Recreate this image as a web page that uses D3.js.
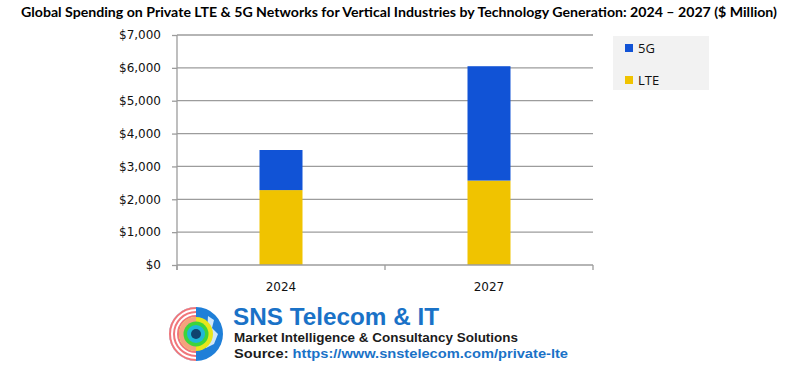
<!DOCTYPE html>
<html>
<head>
<meta charset="utf-8">
<title>Private LTE & 5G Spending</title>
<script src="https://d3js.org/d3.v7.min.js"></script>
<style>
  body { margin: 0; background: #fff; }
  svg { display: block; }
</style>
</head>
<body>
<script>
// chart values ($ Million)
var years = ["2024", "2027"];
var seriesNames = ["LTE", "5G"];
var lteValues = [2280, 2570];
var fiveGValues = [1220, 3480];
var yTicks = [0, 1000, 2000, 3000, 4000, 5000, 6000, 7000];

var colors = { "LTE": "#f0c300", "5G": "#1153d6" };

var W = 800, H = 371;
var margin = { top: 35, left: 177, right: 207, bottom: 106 };

var svg = d3.select("body").append("svg")
    .attr("width", W)
    .attr("height", H);

svg.append("text")
    .attr("x", 399)
    .attr("y", 17)
    .attr("text-anchor", "middle")
    .attr("textLength", 756)
    .attr("lengthAdjust", "spacingAndGlyphs")
    .style("font-family", "Lato, 'Open Sans', sans-serif")
    .style("font-weight", "bold")
    .style("font-size", "13.5px")
    .style("fill", "#000")
    .text("Global Spending on Private LTE & 5G Networks for Vertical Industries by Technology Generation: 2024 \u2013 2027 ($ Million)");

var plotW = W - margin.left - margin.right,
    plotH = H - margin.top - margin.bottom;

var g = svg.append("g").attr("transform", "translate(" + margin.left + "," + margin.top + ")");

var x = d3.scaleBand().domain(years).range([0, plotW]).paddingInner(0).paddingOuter(0);
var y = d3.scaleLinear().domain([0, 7000]).range([plotH, 0]);

// gridlines
g.selectAll(".grid").data(yTicks.slice(1)).enter().append("line")
    .attr("x1", 0).attr("x2", plotW)
    .attr("y1", function(d) { return y(d); })
    .attr("y2", function(d) { return y(d); })
    .style("stroke", "#9c9c9c")
    .style("stroke-width", 1.3);

// stacked data
var table = years.map(function(yr, i) { return { year: yr, "LTE": lteValues[i], "5G": fiveGValues[i] }; });
var stack = d3.stack().keys(seriesNames)(table);
var barW = 43;

g.selectAll(".layer").data(stack).enter().append("g")
    .style("fill", function(d) { return colors[d.key]; })
    .selectAll("rect").data(function(d) { return d; }).enter().append("rect")
    .attr("x", function(d) { return x(d.data.year) + x.bandwidth() / 2 - barW / 2; })
    .attr("width", barW)
    .attr("y", function(d) { return y(d[1]); })
    .attr("height", function(d) { return y(d[0]) - y(d[1]); });

// y axis
var yAxis = d3.axisLeft(y).tickValues(yTicks).tickSize(5).tickPadding(11)
    .tickFormat(function(d) { return "$" + d3.format(",")(d); });
var ya = g.append("g").call(yAxis);
ya.select(".domain").remove();
ya.append("line").attr("x1", 0).attr("x2", 0).attr("y1", 0).attr("y2", plotH + 5)
    .style("stroke", "#9c9c9c").style("stroke-width", 1.3);
ya.selectAll(".tick line").style("stroke", "#9c9c9c").style("stroke-width", 1.3);
ya.selectAll("text")
    .style("font-family", "'DejaVu Sans', Verdana, sans-serif")
    .style("font-size", "12px")
    .style("fill", "#111");

// x axis
var xa = g.append("g").attr("transform", "translate(0," + plotH + ")");
xa.append("line").attr("x1", 0).attr("x2", plotW)
    .style("stroke", "#9c9c9c").style("stroke-width", 1.3);
var bounds = [0].concat(years.map(function(d) { return x(d) + x.bandwidth(); }));
xa.selectAll(".xt").data(bounds).enter().append("line")
    .attr("x1", function(d) { return d; }).attr("x2", function(d) { return d; })
    .attr("y1", 0).attr("y2", 5)
    .style("stroke", "#9c9c9c").style("stroke-width", 1.3);
xa.selectAll(".xl").data(years).enter().append("text")
    .attr("x", function(d) { return x(d) + x.bandwidth() / 2; })
    .attr("y", 26)
    .attr("text-anchor", "middle")
    .style("font-family", "'DejaVu Sans', Verdana, sans-serif")
    .style("font-size", "12px")
    .style("fill", "#111")
    .text(function(d) { return d; });

// legend
var lg = svg.append("g").attr("transform", "translate(613,36)");
lg.append("rect").attr("width", 96).attr("height", 54).style("fill", "#f2f2f2");
var legendKeys = ["5G", "LTE"];
lg.selectAll(".li").data(legendKeys).enter().append("g")
    .attr("transform", function(d, i) { return "translate(12," + (8 + i * 32) + ")"; })
    .each(function(d) {
        var s = d3.select(this);
        s.append("rect").attr("width", 8).attr("height", 8).style("fill", colors[d]);
        s.append("text").attr("x", 13).attr("y", 8.5)
            .style("font-family", "'Open Sans', 'Noto Sans', sans-serif")
            .style("font-size", "13px")
            .style("fill", "#111")
            .text(d);
    });

// footer logo (decorative)
var logo = svg.append("g").attr("transform", "translate(196,334)");
logo.append("circle").attr("r", 27).style("fill", "#1f7fd8");
logo.append("path").attr("d", "M0,-27 A27,27 0 0,0 0,27 Z").style("fill", "#fff");
[26, 22, 18, 14].forEach(function(r) {
    logo.append("path").attr("d", "M0,-" + r + " A" + r + "," + r + " 0 0,0 0," + r)
        .style("fill", "none").style("stroke", "#f0767a").style("stroke-width", 2);
});
logo.append("path").attr("d", "M12,-18 l6,4 l-2,8 l6,6 l-4,10 l-8,4 Z").style("fill", "#cfe6fa");
logo.append("circle").attr("r", 17).style("fill", "#e8e61c");
logo.append("path").attr("d", "M0,-17 A17,17 0 0,0 0,17 Z").style("fill", "#f4a27e");
logo.append("circle").attr("r", 12.5).style("fill", "#3ed43a");
logo.append("circle").attr("r", 9).style("fill", "#1fb7d8");
logo.append("circle").attr("r", 5).style("fill", "#10436e");

svg.append("text").attr("x", 233).attr("y", 324.5)
    .attr("textLength", 206).attr("lengthAdjust", "spacingAndGlyphs")
    .style("font-family", "'Liberation Sans', Arial, sans-serif")
    .style("font-weight", "bold").style("font-size", "24px").style("fill", "#1a72c7")
    .text("SNS Telecom & IT");
svg.append("text").attr("x", 234).attr("y", 342)
    .attr("textLength", 284).attr("lengthAdjust", "spacingAndGlyphs")
    .style("font-family", "'Liberation Sans', Arial, sans-serif")
    .style("font-weight", "bold").style("font-size", "13px").style("fill", "#1b1b1b")
    .text("Market Intelligence & Consultancy Solutions");
var src = svg.append("text").attr("x", 234).attr("y", 357.5)
    .attr("textLength", 334).attr("lengthAdjust", "spacingAndGlyphs")
    .style("font-family", "'Liberation Sans', Arial, sans-serif")
    .style("font-weight", "bold").style("font-size", "13px").style("fill", "#1b1b1b");
src.append("tspan").text("Source: ");
src.append("tspan").style("fill", "#1a72c7").text("https://www.snstelecom.com/private-lte");
</script>
</body>
</html>
